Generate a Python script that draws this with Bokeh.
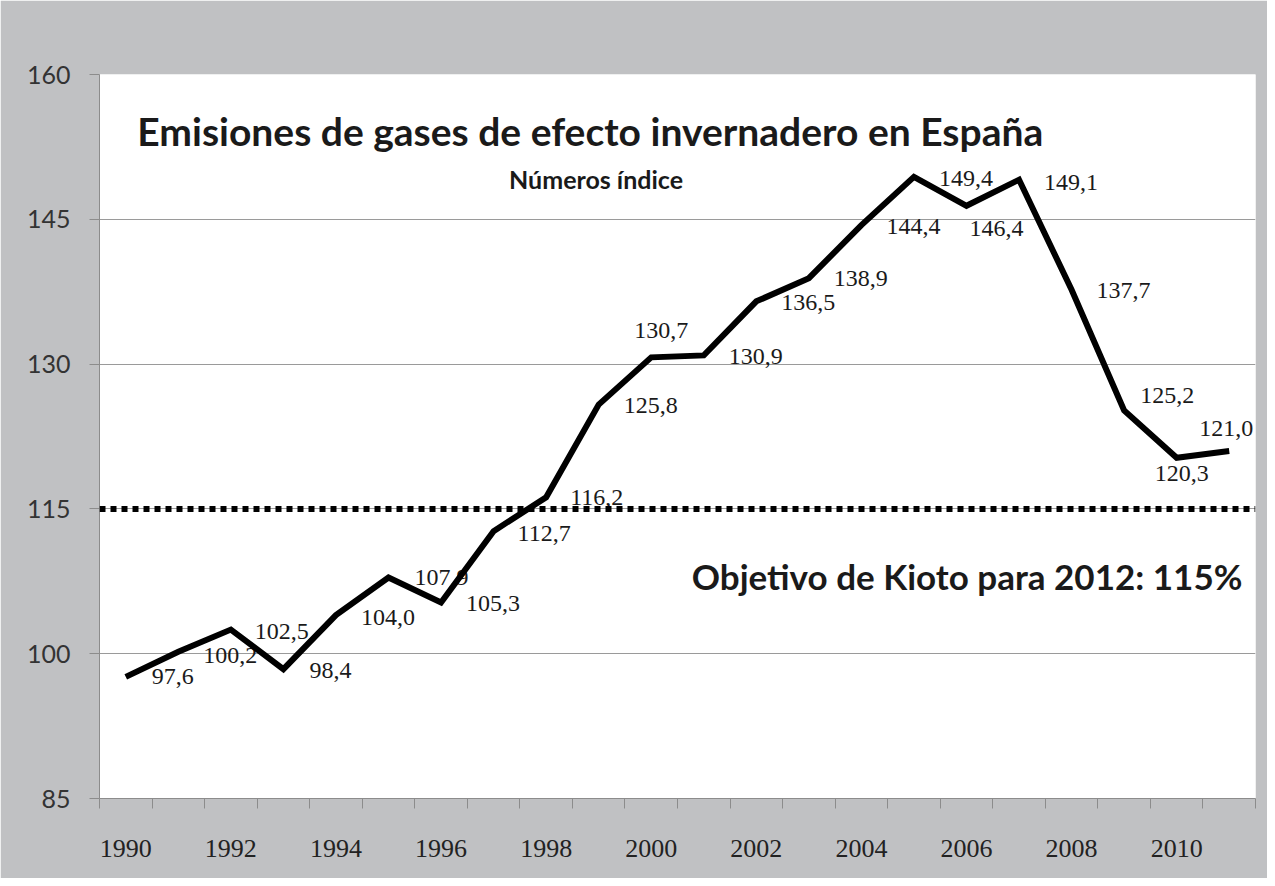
from bokeh.plotting import figure
from bokeh.models import Range1d, FixedTicker, ColumnDataSource, Span, Label
from bokeh.core.properties import value
from bokeh.embed import file_html
from bokeh.resources import INLINE

# ---- data ----
years = list(range(1990, 2012))
emisiones = [97.6, 100.2, 102.5, 98.4, 104.0, 107.9, 105.3, 112.7, 116.2, 125.8,
             130.7, 130.9, 136.5, 138.9, 144.4, 149.4, 146.4, 149.1, 137.7, 125.2,
             120.3, 121.0]
objetivo_kioto = 115
y_ticks = [85, 100, 115, 130, 145, 160]
x_label_years = list(range(1990, 2011, 2))
title_text = "Emisiones de gases de efecto invernadero en España"
subtitle_text = "Números índice"
kioto_text = "Objetivo de Kioto para 2012: 115%"

# ---- label placement (screen pixel offsets from each point) ----
label_dx = [26, 25, 24, 26, 25, 26, 25, 24, 24, 25, -17, 25, 25, 25, 25, 25, 3, 25, 25, 16, -22, -30]
label_dy = [0, 4, 2, 1, 2, 0, 1, 2, 0, 1, -27, 1, 1, 0, 1, 2, 23, 3, 1, -15, 16, -22]

BG = "#c0c1c3"
AXIS = "#8c8c8c"

p = figure(width=1267, height=878,
           x_range=Range1d(1989.5, 2011.5), y_range=Range1d(85, 160),
           output_backend="svg", toolbar_location=None,
           min_border_left=99, min_border_right=12, min_border_top=74, min_border_bottom=80,
           background_fill_color="white", border_fill_color=BG, outline_line_color=None)

# x axis
p.xaxis.ticker = FixedTicker(ticks=x_label_years,
                             minor_ticks=[y - 0.5 for y in range(1990, 2013)])
p.xaxis.major_tick_out = 0
p.xaxis.major_tick_in = 0
p.xaxis.minor_tick_out = 10
p.xaxis.minor_tick_in = 0
p.xaxis.minor_tick_line_color = AXIS
p.xaxis.axis_line_color = AXIS
p.xaxis.major_label_standoff = 31
p.xaxis.major_label_text_font = "Liberation Serif"
p.xaxis.major_label_text_font_size = "26px"
p.xaxis.major_label_text_color = "#222222"
p.xgrid.grid_line_color = None

# y axis
p.yaxis.ticker = FixedTicker(ticks=y_ticks)
p.yaxis.major_tick_out = 10
p.yaxis.major_tick_in = 0
p.yaxis.minor_tick_line_color = None
p.yaxis.major_tick_line_color = AXIS
p.yaxis.axis_line_color = AXIS
p.yaxis.major_label_standoff = 19
p.yaxis.major_label_text_font = "Lato"
p.yaxis.major_label_text_font_size = "25px"
p.yaxis.major_label_text_color = "#333333"
p.ygrid.grid_line_color = "#9a9a9a"
p.ygrid.grid_line_width = 1

# Kioto target line
p.add_layout(Span(location=objetivo_kioto, dimension="width", line_color="black",
                  line_width=6, line_dash="6 5"))

# data labels (drawn before the line, the line passes over them)
src = ColumnDataSource(dict(
    x=years, y=emisiones,
    txt=[f"{v:.1f}".replace(".", ",") for v in emisiones],
    dx=label_dx, dy=label_dy))
p.text(x="x", y="y", text="txt", x_offset="dx", y_offset="dy", source=src,
       text_align="left", text_baseline="middle",
       text_font=value("Liberation Serif"), text_font_size="24px",
       text_color="#1a1a1a")

p.line(years, emisiones, line_color="black", line_width=6, line_join="miter")

# titles
p.add_layout(Label(x=1998.84, y=154.1, text=title_text, text_align="center",
                   text_baseline="middle", text_font="Lato", text_font_style="bold",
                   text_font_size="39px", text_color="#1a1a1a"))
p.add_layout(Label(x=1998.95, y=149.2, text=subtitle_text, text_align="center",
                   text_baseline="middle", text_font="Lato", text_font_style="bold",
                   text_font_size="25px", text_color="#1a1a1a"))
p.add_layout(Label(x=2011.25, y=108.1, text=kioto_text, text_align="right",
                   text_baseline="middle", text_font="Lato", text_font_style="bold",
                   text_font_size="35px", text_color="#1a1a1a"))

open("out.html", "w").write(file_html(p, INLINE))
